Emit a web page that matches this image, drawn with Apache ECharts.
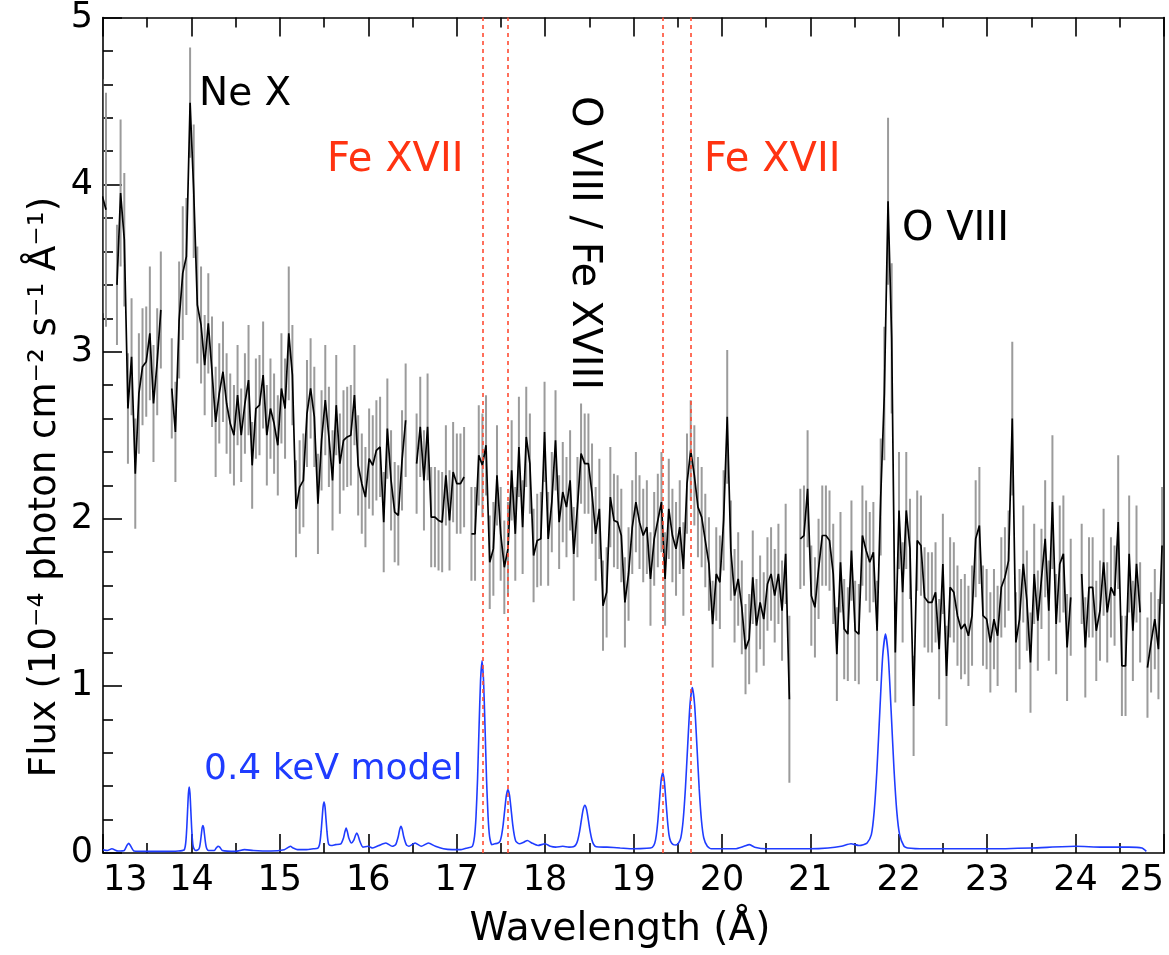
<!DOCTYPE html>
<html><head><meta charset="utf-8">
<script src="https://cdn.jsdelivr.net/npm/echarts@6/dist/echarts.min.js"></script>
<style>html,body{margin:0;padding:0;background:#fff}#c{width:1169px;height:955px}</style>
</head><body><div id="c"></div>
<script>
// Observed spectrum: wavelength (Å), flux, 1-sigma error (null = gap)
const wavelength = [12.993,13.034,13.075,13.117,13.158,13.199,13.241,13.282,13.323,13.365,13.406,13.447,13.489,13.530,13.571,13.613,13.654,13.695,13.737,13.778,13.819,13.861,13.902,13.943,13.985,14.026,14.067,14.109,14.150,14.191,14.233,14.274,14.315,14.357,14.398,14.439,14.481,14.522,14.563,14.605,14.646,14.687,14.729,14.770,14.811,14.853,14.894,14.935,14.977,15.018,15.059,15.101,15.142,15.183,15.224,15.266,15.307,15.348,15.390,15.431,15.472,15.514,15.555,15.596,15.638,15.679,15.720,15.762,15.803,15.844,15.886,15.927,15.968,16.010,16.051,16.092,16.134,16.175,16.216,16.258,16.299,16.340,16.382,16.423,16.464,16.506,16.547,16.588,16.630,16.671,16.712,16.754,16.795,16.836,16.878,16.919,16.960,17.002,17.043,17.084,17.126,17.167,17.208,17.250,17.291,17.332,17.374,17.415,17.456,17.498,17.539,17.580,17.622,17.663,17.704,17.746,17.787,17.828,17.870,17.911,17.952,17.994,18.035,18.076,18.118,18.159,18.200,18.242,18.283,18.324,18.366,18.407,18.448,18.490,18.531,18.572,18.614,18.655,18.696,18.738,18.779,18.820,18.862,18.903,18.944,18.986,19.027,19.068,19.110,19.151,19.192,19.234,19.275,19.316,19.357,19.399,19.440,19.481,19.523,19.564,19.605,19.647,19.688,19.729,19.771,19.812,19.853,19.895,19.936,19.977,20.019,20.060,20.101,20.143,20.184,20.225,20.267,20.308,20.349,20.391,20.432,20.473,20.515,20.556,20.597,20.639,20.680,20.721,20.763,20.804,20.845,20.887,20.928,20.969,21.011,21.052,21.093,21.135,21.176,21.217,21.259,21.300,21.341,21.383,21.424,21.465,21.507,21.548,21.589,21.631,21.672,21.713,21.755,21.796,21.837,21.879,21.920,21.961,22.003,22.044,22.085,22.127,22.168,22.209,22.251,22.292,22.333,22.375,22.416,22.457,22.499,22.540,22.581,22.623,22.664,22.705,22.747,22.788,22.829,22.870,22.912,22.953,22.994,23.036,23.077,23.118,23.160,23.201,23.242,23.284,23.325,23.366,23.408,23.449,23.490,23.532,23.573,23.614,23.656,23.697,23.738,23.780,23.821,23.862,23.904,23.945,23.986,24.028,24.069,24.110,24.152,24.193,24.234,24.276,24.317,24.358,24.400,24.441,24.482,24.524,24.565,24.606,24.648,24.689,24.730,24.772,24.813,24.854,24.896,24.937,24.978];
const flux = [3.93,3.85,null,null,3.40,3.95,3.67,2.66,2.97,2.27,2.75,2.91,2.94,3.11,2.69,2.94,3.25,null,null,2.78,2.52,3.19,3.47,3.57,4.49,3.96,3.28,3.16,2.92,3.17,2.88,2.58,2.75,2.88,2.69,2.57,2.50,2.74,2.50,2.69,2.83,2.32,2.66,2.68,2.86,2.50,2.66,2.57,2.44,2.78,2.66,3.11,2.86,2.06,2.19,2.23,2.63,2.78,2.61,2.09,2.47,2.71,2.49,2.23,2.68,2.33,2.47,2.49,2.50,2.74,2.32,2.21,2.13,2.36,2.32,2.41,2.43,1.98,2.54,2.23,2.04,2.02,2.35,2.59,null,null,2.33,2.55,2.23,2.55,2.01,2.01,1.99,1.98,2.26,1.99,2.28,2.21,2.21,2.25,null,1.91,1.91,2.38,2.32,2.44,1.74,1.82,2.26,1.91,1.71,1.82,2.29,1.91,2.43,1.95,2.49,2.33,1.78,1.87,1.88,2.52,1.88,2.10,2.47,1.98,2.16,2.07,2.23,1.79,2.07,2.39,2.33,2.33,2.15,1.91,2.06,1.48,1.56,2.13,1.99,1.98,1.90,1.50,1.67,1.95,2.10,1.98,1.90,1.95,1.64,1.88,1.99,2.10,1.64,2.06,1.90,1.82,1.95,1.70,2.21,2.41,2.26,2.07,2.01,1.87,1.73,1.37,1.67,1.62,1.99,2.61,1.81,1.54,1.64,1.47,1.22,1.28,1.65,1.36,1.50,1.40,1.61,1.67,1.54,1.67,1.45,1.79,0.92,null,null,1.88,1.90,2.18,1.54,1.47,1.70,1.90,1.90,1.87,1.67,1.19,1.74,1.34,1.31,1.81,1.33,1.31,1.90,1.81,1.74,1.80,1.33,2.13,2.75,3.90,3.08,1.20,2.05,1.56,2.05,1.82,0.88,1.87,1.84,1.53,1.50,1.50,1.56,1.22,1.73,1.06,1.59,1.56,1.42,1.34,1.37,1.30,1.42,1.88,1.96,1.42,1.40,1.26,1.40,1.30,1.59,1.65,1.75,2.60,1.26,1.40,1.73,1.51,1.14,1.67,1.39,1.64,1.88,1.45,2.10,1.37,1.73,1.79,1.23,1.53,null,null,1.67,1.23,1.59,1.59,1.33,1.45,1.74,1.44,1.59,1.54,1.98,1.12,1.12,1.79,1.33,1.73,1.44,null,1.11,1.26,1.40,1.22,1.84];
const fluxErr = [0.7,0.7,null,null,0.36,0.44,0.4,0.33,0.35,0.33,0.36,0.35,0.33,0.4,0.35,0.32,0.35,null,null,0.3,0.3,0.35,0.4,0.35,0.33,0.4,0.35,0.35,0.3,0.3,0.33,0.33,0.3,0.3,0.3,0.3,0.3,0.3,0.28,0.3,0.33,0.26,0.3,0.3,0.32,0.3,0.3,0.3,0.3,0.33,0.3,0.4,0.3,0.29,0.28,0.28,0.32,0.3,0.3,0.3,0.3,0.33,0.3,0.3,0.3,0.3,0.3,0.3,0.3,0.3,0.3,0.3,0.3,0.3,0.3,0.3,0.3,0.3,0.3,0.3,0.3,0.3,0.3,0.34,null,null,0.3,0.3,0.3,0.32,0.3,0.3,0.3,0.3,0.3,0.3,0.3,0.3,0.3,0.3,null,0.28,0.28,0.3,0.31,0.3,0.28,0.28,0.3,0.28,0.28,0.28,0.3,0.28,0.3,0.28,0.3,0.3,0.28,0.28,0.28,0.3,0.28,0.3,0.3,0.28,0.3,0.3,0.3,0.28,0.3,0.3,0.3,0.3,0.3,0.28,0.3,0.27,0.27,0.3,0.28,0.28,0.28,0.27,0.28,0.28,0.3,0.28,0.28,0.28,0.28,0.28,0.28,0.3,0.28,0.3,0.28,0.28,0.28,0.28,0.3,0.3,0.3,0.3,0.3,0.28,0.28,0.26,0.28,0.28,0.3,0.4,0.3,0.28,0.28,0.28,0.27,0.27,0.28,0.28,0.28,0.28,0.28,0.28,0.28,0.3,0.3,0.3,0.5,null,null,0.3,0.3,0.35,0.3,0.3,0.3,0.3,0.3,0.3,0.3,0.28,0.3,0.3,0.28,0.3,0.3,0.3,0.3,0.3,0.3,0.3,0.3,0.35,0.4,0.5,0.45,0.3,0.35,0.3,0.35,0.3,0.3,0.3,0.3,0.3,0.3,0.3,0.3,0.3,0.3,0.3,0.3,0.3,0.3,0.3,0.3,0.3,0.3,0.35,0.35,0.3,0.3,0.3,0.3,0.3,0.3,0.3,0.3,0.46,0.3,0.3,0.35,0.3,0.3,0.3,0.3,0.3,0.35,0.3,0.4,0.3,0.35,0.35,0.32,0.35,null,null,0.3,0.3,0.3,0.3,0.3,0.3,0.32,0.3,0.3,0.3,0.4,0.3,0.3,0.35,0.3,0.35,0.3,null,0.3,0.3,0.3,0.3,0.35];

// 0.4 keV model curve
const modelWavelength = [13.00,13.05,13.10,13.17,13.24,13.27,13.29,13.31,13.35,13.50,13.70,13.85,
 13.917,13.93,13.939,13.948,13.957,13.966,13.975,13.984,13.993,14.002,14.011,14.02,14.035,14.05,
 14.07,14.085,14.094,14.103,14.112,14.121,14.13,14.139,14.148,14.157,14.166,14.175,14.19,
 14.26,14.28,14.30,14.32,14.35,14.50,14.60,14.70,14.90,15.05,15.10,15.12,15.15,15.20,15.30,15.38,
 15.428,15.445,15.456,15.467,15.478,15.489,15.5,15.511,15.522,15.533,15.544,15.555,15.58,15.63,
 15.69,15.72,15.735,15.75,15.765,15.78,15.81,15.835,15.855,15.87,15.885,15.905,15.94,
 16.00,16.05,16.12,16.20,16.27,16.31,16.34,16.355,16.37,16.385,16.40,16.43,16.46,16.53,16.60,16.68,16.76,16.85,16.95,17.05,17.12,
 17.177,17.202,17.219,17.236,17.253,17.270,17.287,17.304,17.321,17.338,17.355,17.372,17.397,17.43,
 17.463,17.49,17.508,17.526,17.544,17.562,17.58,17.598,17.616,17.634,17.652,17.67,17.71,
 17.76,17.80,17.85,17.92,18.00,18.06,18.12,18.20,18.27,
 18.32,18.35,18.37,18.39,18.41,18.43,18.45,18.47,18.49,18.51,18.53,18.55,18.58,
 18.70,18.85,19.00,19.15,
 19.213,19.24,19.258,19.276,19.294,19.312,19.33,19.348,19.366,19.384,19.402,19.42,19.45,19.48,
 19.51,19.535,19.561,19.587,19.613,19.639,19.665,19.691,19.717,19.743,19.769,19.795,19.835,19.88,
 20.00,20.15,20.25,20.31,20.37,20.50,20.80,21.00,21.20,21.35,21.46,21.55,
 21.60,21.642,21.69,21.722,21.754,21.786,21.818,21.85,21.882,21.914,21.946,21.978,22.01,22.058,22.10,
 22.30,22.60,23.00,23.50,24.00,24.30,24.60,24.75,24.80];
const modelFlux = [0.02,0.015,0.025,0.012,0.015,0.045,0.058,0.045,0.012,0.01,0.01,0.012,
 0.018,0.039,0.08,0.156,0.258,0.355,0.395,0.355,0.258,0.156,0.08,0.039,0.02,0.015,
 0.018,0.025,0.04,0.07,0.11,0.15,0.165,0.15,0.11,0.07,0.04,0.025,0.015,
 0.015,0.03,0.04,0.035,0.015,0.01,0.02,0.015,0.012,0.02,0.035,0.04,0.03,0.02,0.02,0.025,
 0.028,0.043,0.073,0.129,0.204,0.276,0.305,0.276,0.204,0.129,0.073,0.05,0.045,0.05,
 0.055,0.09,0.125,0.15,0.125,0.09,0.06,0.075,0.105,0.12,0.105,0.07,0.035,
 0.04,0.03,0.045,0.06,0.04,0.05,0.10,0.14,0.16,0.14,0.10,0.05,0.04,0.06,0.04,0.06,0.04,0.025,0.02,0.02,0.03,
 0.04,0.10,0.22,0.44,0.75,1.03,1.15,1.03,0.75,0.44,0.22,0.10,0.05,0.055,
 0.058,0.07,0.106,0.17,0.26,0.345,0.38,0.345,0.26,0.17,0.106,0.07,0.055,
 0.065,0.075,0.06,0.045,0.055,0.04,0.035,0.04,0.035,
 0.037,0.051,0.078,0.128,0.195,0.259,0.285,0.259,0.195,0.128,0.078,0.051,0.037,
 0.035,0.03,0.025,0.028,
 0.034,0.058,0.107,0.196,0.318,0.433,0.48,0.433,0.318,0.196,0.107,0.07,0.05,0.048,
 0.06,0.09,0.193,0.385,0.644,0.889,0.99,0.889,0.644,0.385,0.193,0.09,0.04,0.025,
 0.025,0.025,0.04,0.05,0.035,0.025,0.025,0.025,0.03,0.04,0.055,0.045,
 0.05,0.06,0.11,0.248,0.504,0.849,1.176,1.31,1.176,0.849,0.504,0.248,0.11,0.042,0.03,
 0.025,0.025,0.025,0.03,0.04,0.035,0.035,0.03,0.01];

const lineMarkers = [17.287, 17.581, 19.334, 19.654];
const xMin = 13, xMax = 25, yMin = 0, yMax = 5;

const FONT = 'DejaVu Sans';
const RED = '#ff3311';
const BLUE = '#1f3cff';

const specData = wavelength.map((w, i) => [w, flux[i] == null ? '-' : flux[i]]);
const errData = [];
wavelength.forEach((w, i) => {
  if (flux[i] != null && fluxErr[i] != null) errData.push([w, flux[i] - fluxErr[i], flux[i] + fluxErr[i]]);
});
const modelData = modelWavelength.map((w, i) => [w, modelFlux[i]]);

const axisLineStyle = { color: '#000', width: 1.6 };
const chart = echarts.init(document.getElementById('c'), null, { renderer: 'canvas' });
chart.setOption({
  backgroundColor: '#fff',
  animation: false,
  grid: { left: 103, right: 5, top: 6, bottom: 102, containLabel: false },
  xAxis: [{
    type: 'value', min: xMin, max: xMax, interval: 1, position: 'bottom',
    axisLine: { show: true, onZero: false, lineStyle: axisLineStyle },
    axisTick: { show: true, inside: true, length: 19, lineStyle: axisLineStyle },
    minorTick: { show: true, splitNumber: 2, length: 10, lineStyle: axisLineStyle },
    splitLine: { show: false },
    axisLabel: { color: '#000', fontSize: 35, fontFamily: FONT, margin: 10, alignMinLabel: 'left', alignMaxLabel: 'right' }
  }, {
    type: 'value', min: xMin, max: xMax, interval: 1, position: 'top',
    axisLine: { show: true, onZero: false, lineStyle: axisLineStyle },
    axisTick: { show: true, inside: true, length: 19, lineStyle: axisLineStyle },
    minorTick: { show: true, splitNumber: 2, length: 10, lineStyle: axisLineStyle },
    splitLine: { show: false },
    axisLabel: { show: false }
  }],
  yAxis: [{
    type: 'value', min: yMin, max: yMax, interval: 1, position: 'left',
    axisLine: { show: true, onZero: false, lineStyle: axisLineStyle },
    axisTick: { show: true, inside: true, length: 19, lineStyle: axisLineStyle },
    minorTick: { show: true, splitNumber: 5, length: 10, lineStyle: axisLineStyle },
    splitLine: { show: false },
    axisLabel: { color: '#000', fontSize: 35, fontFamily: FONT, margin: 10 }
  }, {
    type: 'value', min: yMin, max: yMax, interval: 1, position: 'right',
    axisLine: { show: true, onZero: false, lineStyle: axisLineStyle },
    axisTick: { show: false }, splitLine: { show: false }, axisLabel: { show: false }
  }],
  series: [
    {
      type: 'custom', xAxisIndex: 0, yAxisIndex: 0, clip: true, z: 1,
      renderItem: function (params, api) {
        const x = api.value(0);
        const p1 = api.coord([x, api.value(1)]);
        const p2 = api.coord([x, api.value(2)]);
        return { type: 'line', shape: { x1: p1[0], y1: p1[1], x2: p2[0], y2: p2[1] },
                 style: { stroke: '#9b9b9b', lineWidth: 2 } };
      },
      data: errData
    },
    {
      type: 'line', xAxisIndex: 0, yAxisIndex: 0, data: specData, showSymbol: false, symbol: 'none',
      connectNulls: false, clip: true, z: 3,
      lineStyle: { color: '#000', width: 1.7 }
    },
    {
      type: 'line', xAxisIndex: 0, yAxisIndex: 0, data: modelData, showSymbol: false, symbol: 'none',
      smooth: 0.2, clip: true, z: 4,
      lineStyle: { color: BLUE, width: 1.6 },
      markLine: {
        silent: true, symbol: 'none', label: { show: false },
        lineStyle: { color: '#ff4d33', type: [4, 4], width: 1.6 },
        data: lineMarkers.map(v => ({ xAxis: v }))
      }
    }
  ],
  graphic: [
    { type: 'text', x: 45, y: 487, rotation: Math.PI / 2,
      style: { text: 'Flux (10⁻⁴ photon cm⁻² s⁻¹ Å⁻¹)', font: '37px "DejaVu Sans"', fill: '#000', align: 'center', verticalAlign: 'middle' } },
    { type: 'text', x: 620, y: 930,
      style: { text: 'Wavelength (Å)', font: '39px "DejaVu Sans"', fill: '#000', align: 'center', verticalAlign: 'middle' } },
    { type: 'text', x: 199, y: 95,
      style: { text: 'Ne X', font: '39px "DejaVu Sans"', fill: '#000', align: 'left', verticalAlign: 'middle' } },
    { type: 'text', x: 327, y: 161,
      style: { text: 'Fe XVII', font: '40px "DejaVu Sans"', fill: RED, align: 'left', verticalAlign: 'middle' } },
    { type: 'text', x: 704, y: 161,
      style: { text: 'Fe XVII', font: '40px "DejaVu Sans"', fill: RED, align: 'left', verticalAlign: 'middle' } },
    { type: 'text', x: 902, y: 230,
      style: { text: 'O VIII', font: '40px "DejaVu Sans"', fill: '#000', align: 'left', verticalAlign: 'middle' } },
    { type: 'text', x: 583, y: 243, rotation: -Math.PI / 2,
      style: { text: 'O VIII / Fe XVIII', font: '40px "DejaVu Sans"', fill: '#000', align: 'center', verticalAlign: 'middle' } },
    { type: 'text', x: 204, y: 770,
      style: { text: '0.4 keV model', font: '36px "DejaVu Sans"', fill: BLUE, align: 'left', verticalAlign: 'middle' } }
  ]
});
</script></body></html>
